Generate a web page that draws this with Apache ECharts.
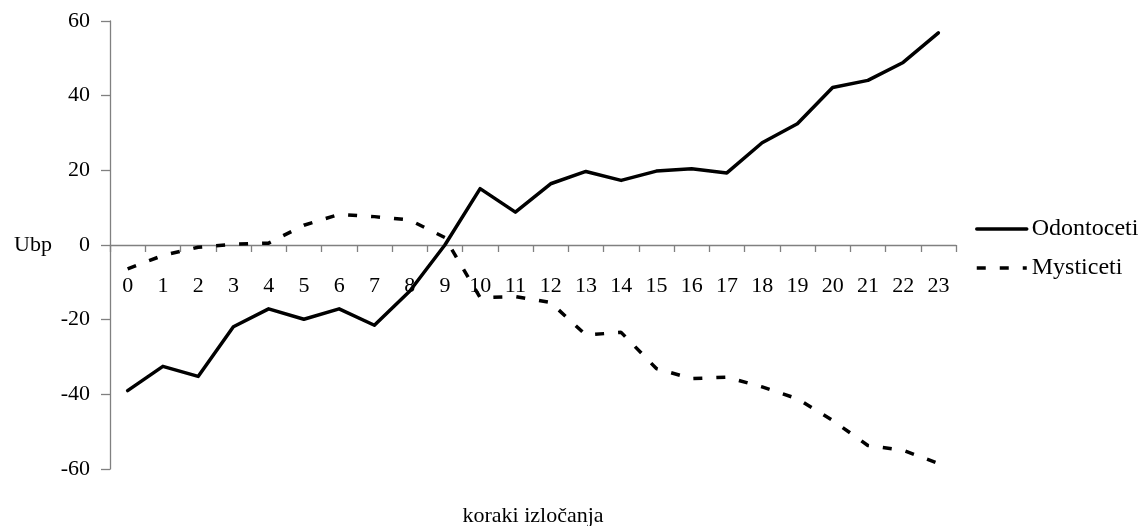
<!DOCTYPE html>
<html>
<head>
<meta charset="utf-8">
<script src="https://cdn.jsdelivr.net/npm/echarts@6/dist/echarts.min.js"></script>
<style>
  html, body { margin: 0; padding: 0; background: #ffffff; }
  #chart { width: 1140px; height: 526px; }
</style>
</head>
<body>
<div id="chart"></div>
<script>
// Elimination steps on the x axis
const steps = ['0','1','2','3','4','5','6','7','8','9','10','11','12','13','14','15','16','17','18','19','20','21','22','23'];

// Ubp values per step
const odontoceti = [-39, -32.5, -35.2, -21.9, -17.1, -19.9, -17.1, -21.5, -12.4, 0, 15.1, 8.8, 16.4, 19.7, 17.3, 19.8, 20.4, 19.3, 27.4, 32.5, 42.2, 44.1, 48.9, 56.8];
const mysticeti = [-6.4, -2.8, -0.6, 0.2, 0.5, 5.3, 8.2, 7.6, 6.7, 2.0, -14.1, -13.8, -15.4, -24.1, -23.4, -33.1, -35.8, -35.4, -38, -41.2, -47, -53.7, -55, -58.5];

// Value axis ticks
const yTicks = { min: -60, max: 60, interval: 20 };

const FONT = '"Liberation Serif", "Times New Roman", serif';
const AXIS_COLOR = '#808080';

const GRID = { left: 110, right: 184, top: 21, bottom: 57 };
const PLOT_H = 526 - GRID.top - GRID.bottom;
// the category axis runs along the zero line: shift it up from the grid bottom
const zeroShift = PLOT_H * (0 - yTicks.min) / (yTicks.max - yTicks.min);

const chart = echarts.init(document.getElementById('chart'), null, { renderer: 'canvas' });

chart.setOption({
  animation: false,
  backgroundColor: '#ffffff',
  textStyle: { fontFamily: FONT, color: '#000' },
  grid: Object.assign({ containLabel: false, outerBoundsMode: 'none' }, GRID),
  legend: {
    orient: 'vertical',
    left: 970,
    top: 211,
    itemWidth: 50,
    itemHeight: 14,
    itemGap: 13,
    itemStyle: { opacity: 0 },
    lineStyle: { width: 3.5 },
    textStyle: { fontFamily: FONT, fontSize: 24, color: '#000', lineHeight: 26 },
    data: ['Odontoceti', 'Mysticeti']
  },
  xAxis: {
    type: 'category',
    data: steps,
    boundaryGap: true,
    offset: -zeroShift,
    name: 'koraki izločanja',
    nameLocation: 'middle',
    nameGap: 260,
    nameTextStyle: { fontFamily: FONT, fontSize: 22, color: '#000' },
    axisLine: { onZero: false, lineStyle: { color: AXIS_COLOR, width: 1.3 } },
    axisTick: { show: true, alignWithLabel: false, length: 7, lineStyle: { color: AXIS_COLOR, width: 1.3 } },
    axisLabel: { interval: 0, margin: 30, fontFamily: FONT, fontSize: 22, color: '#000' },
    splitLine: { show: false }
  },
  yAxis: {
    type: 'value',
    min: yTicks.min,
    max: yTicks.max,
    interval: yTicks.interval,
    name: 'Ubp',
    nameLocation: 'middle',
    nameRotate: 0,
    nameGap: 58,
    nameTextStyle: { fontFamily: FONT, fontSize: 22, color: '#000' },
    axisLine: { show: true, lineStyle: { color: AXIS_COLOR, width: 1.3 } },
    axisTick: { show: true, length: 9, lineStyle: { color: AXIS_COLOR, width: 1.3 } },
    axisLabel: { margin: 20, fontFamily: FONT, fontSize: 22, color: '#000' },
    splitLine: { show: false }
  },
  series: [
    {
      name: 'Odontoceti',
      type: 'line',
      data: odontoceti,
      symbol: 'none',
      smooth: false,
      lineStyle: { color: '#000', width: 3.5, cap: 'round', join: 'round' },
      itemStyle: { color: '#000' },
      z: 3
    },
    {
      name: 'Mysticeti',
      type: 'line',
      data: mysticeti,
      symbol: 'none',
      smooth: false,
      lineStyle: { color: '#000', width: 3.5, type: [9, 14], cap: 'butt' },
      itemStyle: { color: '#000' },
      z: 2
    }
  ]
});
</script>
</body>
</html>
